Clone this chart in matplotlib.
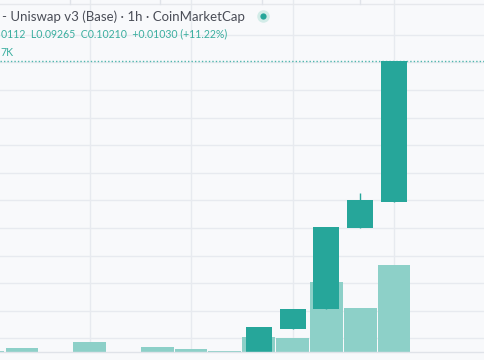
"""
Recreates a TradingView-style 1h candle chart (Uniswap v3 / Base) with volume overlay.
"""

import matplotlib
matplotlib.use("Agg")
import matplotlib.pyplot as plt

# ---- data ----
slots = list(range(13))                       # hourly slots, left to right
volumes = [0.05, 0.2, 0.025, 0.5, 0.025, 0.25, 0.15, 0.05, 0.75, 0.7, 3.5, 2.2, 4.35]  # K

candle_slots = [8, 9, 10, 11, 12]
opens = [0.0810, 0.0827, 0.0841, 0.0900, 0.0919]
highs = [0.0828, 0.0841, 0.0901, 0.0925, 0.1021]
lows = [0.0810, 0.0827, 0.0841, 0.0900, 0.0919]
closes = [0.0828, 0.0841, 0.0901, 0.0920, 0.1021]

last_price = 0.1021
price_grid = [0.082, 0.084, 0.086, 0.088, 0.090, 0.092, 0.094, 0.096, 0.098, 0.100, 0.102, 0.104]
time_grid = [3, 6, 9, 12]

header = "- Uniswap v3 (Base) \u00b7 1h \u00b7 CoinMarketCap"
ohlc_text = "0112  L0.09265  C0.10210  +0.01030 (+11.22%)"
vol_text = "7K"

# ---- style ----
BG = "#f3f5f8"
GRID = "#e7eaef"
UP = "#26a69a"
VOL = "#8dd0c8"
TEXT = "#4a4d57"
TEAL_TXT = "#3aae9f"
FONT = "Lato"

W, H = 485, 360
fig = plt.figure(figsize=(W / 100, H / 100), dpi=100)
fig.patch.set_facecolor("#f8f9fb")

XLIM = (0.352, 14.688)
PLIM = (0.08101, 0.10652)
rect = [0, 8 / H, 1, 352 / H]

# grid layer
ax_bg = fig.add_axes(rect)
ax_bg.set_facecolor(BG)
ax_bg.set_xlim(*XLIM)
ax_bg.set_ylim(*PLIM)
for p in price_grid:
    ax_bg.axhline(p, color=GRID, lw=1)
for t in time_grid:
    ax_bg.axvline(t, color=GRID, lw=1)
ax_bg.axis("off")

# volume layer
ax_vol = fig.add_axes(rect)
ax_vol.patch.set_alpha(0)
ax_vol.set_xlim(*XLIM)
ax_vol.set_ylim(0, 17.6)
ax_vol.bar(slots, volumes, width=0.97, color=VOL, edgecolor="none")
ax_vol.axis("off")

# price layer
ax = fig.add_axes(rect)
ax.patch.set_alpha(0)
ax.set_xlim(*XLIM)
ax.set_ylim(*PLIM)
ax.axhline(last_price, color=UP, lw=1, ls=(0, (1, 1.5)), alpha=0.8)
ax.vlines(candle_slots, lows, highs, color=UP, lw=1)
ax.bar(candle_slots, [c - o for o, c in zip(opens, closes)], bottom=opens,
       width=0.77, color=UP, edgecolor="none")
ax.axis("off")

# bottom strip border and thin top toolbar edge
fig.add_artist(plt.Line2D([0, 1], [8 / H, 8 / H], color="#e0e3e9", lw=1))
fig.add_artist(plt.Line2D([0, 1], [1 - 3.5 / H, 1 - 3.5 / H], color="#e6e8ec", lw=1))
for xp in [70, 160, 262, 360]:
    fig.add_artist(plt.Line2D([xp / W, xp / W], [1 - 3.5 / H, 1], color="#e0e3e9", lw=1))

# legend texts
fig.text(2 / W, 1 - 17 / H, header, color=TEXT, fontsize=9.5, family=FONT,
         va="center", ha="left")
fig.text(1 / W, 1 - 33.5 / H, ohlc_text, color=TEAL_TXT, fontsize=7.6, family=FONT,
         va="center", ha="left")
fig.text(0 / W, 1 - 52 / H, vol_text, color=TEAL_TXT, fontsize=7.6, family=FONT,
         va="center", ha="left")

# live dot with halo
fig.add_artist(plt.Line2D([263 / W], [1 - 16 / H], marker="o", markersize=9,
                          color="#d3ece8", mec="none"))
fig.add_artist(plt.Line2D([263 / W], [1 - 16 / H], marker="o", markersize=4.5,
                          color=UP, mec="none"))

fig.savefig("out.png", dpi=100, facecolor=fig.get_facecolor())
plt.close(fig)
